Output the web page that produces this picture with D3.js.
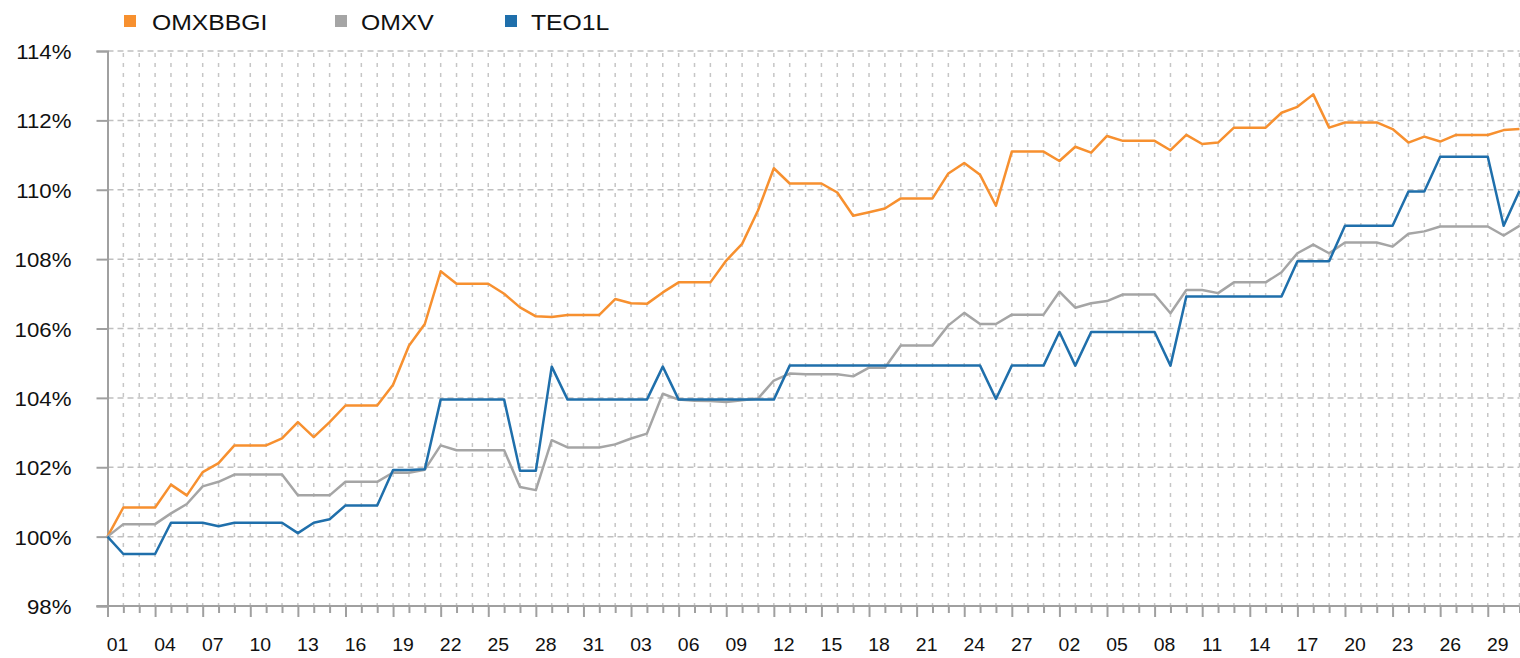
<!DOCTYPE html>
<html>
<head>
<meta charset="utf-8">
<script src="https://cdn.jsdelivr.net/npm/d3@7"></script>
<style>
    html, body { margin: 0; padding: 0; background: #fff; }
    svg { display: block; }
</style>
</head>
<body>
<svg id="chart"></svg>
<script>
    'use strict';

    var days = [
        '01','02','03','04','05','06','07','08','09','10','11','12','13','14','15','16',
        '17','18','19','20','21','22','23','24','25','26','27','28','29','30','31',
        '01','02','03','04','05','06','07','08','09','10','11','12','13','14','15','16',
        '17','18','19','20','21','22','23','24','25','26','27','28',
        '01','02','03','04','05','06','07','08','09','10','11','12','13','14','15','16',
        '17','18','19','20','21','22','23','24','25','26','27','28','29','30','31'
    ];

    var omxbbgi = [
        100.0, 100.84, 100.84, 100.84, 101.5, 101.19, 101.86, 102.12, 102.63, 102.63,
        102.63, 102.83, 103.3, 102.87, 103.3, 103.78, 103.78, 103.78, 104.38, 105.5,
        106.13, 107.65, 107.29, 107.29, 107.29, 107.0, 106.61, 106.35, 106.33, 106.39,
        106.39, 106.39, 106.85, 106.73, 106.71, 107.04, 107.33, 107.33, 107.33, 107.96,
        108.44, 109.4, 110.62, 110.18, 110.18, 110.18, 109.92, 109.25, 109.35, 109.46,
        109.75, 109.75, 109.75, 110.47, 110.77, 110.43, 109.54, 111.1, 111.1, 111.1,
        110.83, 111.24, 111.07, 111.55, 111.41, 111.41, 111.41, 111.14, 111.58, 111.32,
        111.36, 111.79, 111.79, 111.79, 112.22, 112.39, 112.75, 111.79, 111.94, 111.94,
        111.94, 111.75, 111.36, 111.53, 111.39, 111.58, 111.58, 111.58, 111.72, 111.75
    ];

    var omxv = [
        100.0, 100.36, 100.36, 100.36, 100.67, 100.94, 101.45, 101.58, 101.79, 101.79,
        101.79, 101.79, 101.19, 101.19, 101.19, 101.58, 101.58, 101.58, 101.85, 101.84,
        101.93, 102.63, 102.49, 102.49, 102.49, 102.49, 101.43, 101.34, 102.78, 102.57,
        102.57, 102.57, 102.66, 102.83, 102.97, 104.12, 103.95, 103.92, 103.91, 103.88,
        103.93, 103.98, 104.5, 104.7, 104.68, 104.68, 104.68, 104.62, 104.87, 104.87,
        105.51, 105.51, 105.51, 106.09, 106.45, 106.13, 106.13, 106.4, 106.4, 106.4,
        107.06, 106.6, 106.73, 106.79, 106.98, 106.98, 106.98, 106.44, 107.11, 107.11,
        107.02, 107.33, 107.33, 107.33, 107.62, 108.17, 108.42, 108.17, 108.48, 108.48,
        108.48, 108.36, 108.73, 108.8, 108.94, 108.94, 108.94, 108.94, 108.68, 108.96
    ];

    var teo1l = [
        100.0, 99.5, 99.5, 99.5, 100.4, 100.4, 100.4, 100.3, 100.4, 100.4,
        100.4, 100.4, 100.1, 100.4, 100.5, 100.9, 100.9, 100.9, 101.92, 101.92,
        101.94, 103.95, 103.95, 103.95, 103.95, 103.95, 101.9, 101.9, 104.9, 103.95,
        103.95, 103.95, 103.95, 103.95, 103.95, 104.9, 103.95, 103.95, 103.95, 103.95,
        103.95, 103.95, 103.95, 104.93, 104.93, 104.93, 104.93, 104.93, 104.93, 104.93,
        104.93, 104.93, 104.93, 104.93, 104.93, 104.93, 103.97, 104.93, 104.93, 104.93,
        105.9, 104.93, 105.9, 105.9, 105.9, 105.9, 105.9, 104.93, 106.92, 106.92,
        106.92, 106.92, 106.92, 106.92, 106.92, 107.94, 107.94, 107.94, 108.96, 108.96,
        108.96, 108.96, 109.95, 109.95, 110.95, 110.95, 110.95, 110.95, 108.96, 109.97
    ];

    var yTicks = [98, 100, 102, 104, 106, 108, 110, 112, 114];

    var seriesNames = ['OMXBBGI', 'OMXV', 'TEO1L'];
    var seriesColors = ['#f7902f', '#a5a5a5', '#1f6fab'];
    var seriesValues = [omxbbgi, omxv, teo1l];

    var width = 1520;
    var height = 658;
    var plotLeft = 107.5;
    var plotRight = 1519.5;
    var plotTop = 51;
    var plotBottom = 606;
    var fontFamily = 'Arial, "Liberation Sans", sans-serif';

    var svg = d3.select('#chart')
        .attr('width', width)
        .attr('height', height);

    var x = d3.scaleLinear()
        .domain([0, days.length - 1])
        .range([plotLeft, plotRight]);

    var y = d3.scaleLinear()
        .domain([98, 114])
        .range([plotBottom, plotTop]);

    // grid
    svg.append('g')
        .selectAll('line')
        .data(d3.range(1, days.length))
        .enter().append('line')
        .attr('x1', function(d) { return x(d); })
        .attr('x2', function(d) { return x(d); })
        .attr('y1', plotTop + 2)
        .attr('y2', plotBottom)
        .attr('stroke', '#c6c6c6')
        .attr('stroke-width', 1.5)
        .attr('stroke-dasharray', '4,6');

    svg.append('g')
        .selectAll('line')
        .data(yTicks.slice(1))
        .enter().append('line')
        .attr('x1', plotLeft)
        .attr('x2', plotRight)
        .attr('y1', function(d) { return y(d); })
        .attr('y2', function(d) { return y(d); })
        .attr('stroke', '#c0c0c0')
        .attr('stroke-width', 1.5)
        .attr('stroke-dasharray', '6,4');

    // y axis
    var yAxis = d3.axisLeft(y)
        .tickValues(yTicks)
        .tickSize(11)
        .tickFormat(function(d) { return d + '%'; });

    var gy = svg.append('g')
        .attr('transform', 'translate(' + plotLeft + ',0)')
        .call(yAxis);
    gy.select('.domain').attr('stroke', '#a0a0a0').attr('stroke-width', 2);
    gy.selectAll('.tick line').attr('stroke', '#a0a0a0').attr('stroke-width', 2);
    gy.selectAll('.tick text')
        .attr('x', 0)
        .attr('dy', 0)
        .attr('transform', 'translate(-36,7.5) scale(1.06,1)')
        .attr('fill', '#111')
        .attr('font-family', fontFamily)
        .attr('font-size', 21);

    // x axis
    var xAxis = d3.axisBottom(x)
        .tickValues(d3.range(0, days.length))
        .tickSize(7)
        .tickSizeOuter(0)
        .tickFormat(function(d) { return d % 3 === 0 ? days[d] : ''; });

    var gx = svg.append('g')
        .attr('transform', 'translate(0,' + plotBottom + ')')
        .call(xAxis);
    gx.select('.domain').attr('stroke', '#a0a0a0').attr('stroke-width', 2)
        .attr('d', 'M' + (plotLeft - 11) + ',0H' + plotRight);
    gx.selectAll('.tick line')
        .attr('stroke', '#a0a0a0')
        .attr('stroke-width', 2)
        .attr('y2', function(d) { return d % 3 === 0 ? 11 : 7; });
    gx.selectAll('.tick text')
        .attr('x', 0)
        .attr('y', 0)
        .attr('dy', 0)
        .attr('transform', 'translate(9.5,45) scale(1.08,1)')
        .attr('fill', '#111')
        .attr('font-family', fontFamily)
        .attr('font-size', 18);

    // lines
    var line = d3.line()
        .x(function(d, i) { return x(i); })
        .y(function(d) { return y(d); })
        .curve(d3.curveLinear);

    svg.append('g')
        .selectAll('path')
        .data(seriesValues)
        .enter().append('path')
        .attr('d', line)
        .attr('fill', 'none')
        .attr('stroke', function(d, i) { return seriesColors[i]; })
        .attr('stroke-width', 2.5)
        .attr('stroke-linejoin', 'round');

    // legend
    var legendX = [124, 335, 505];
    var legend = svg.append('g')
        .selectAll('g')
        .data(seriesNames)
        .enter().append('g')
        .attr('transform', function(d, i) { return 'translate(' + legendX[i] + ',0)'; });

    legend.append('rect')
        .attr('x', 0)
        .attr('y', 15)
        .attr('width', 12)
        .attr('height', 12)
        .attr('fill', function(d, i) { return seriesColors[i]; });

    legend.append('text')
        .attr('transform', function(d, i) { return 'translate(' + (i === 0 ? 28 : 26) + ',30) scale(1.1,1)'; })
        .attr('fill', '#111')
        .attr('font-family', fontFamily)
        .attr('font-size', 22.5)
        .text(function(d) { return d; });
</script>
</body>
</html>
